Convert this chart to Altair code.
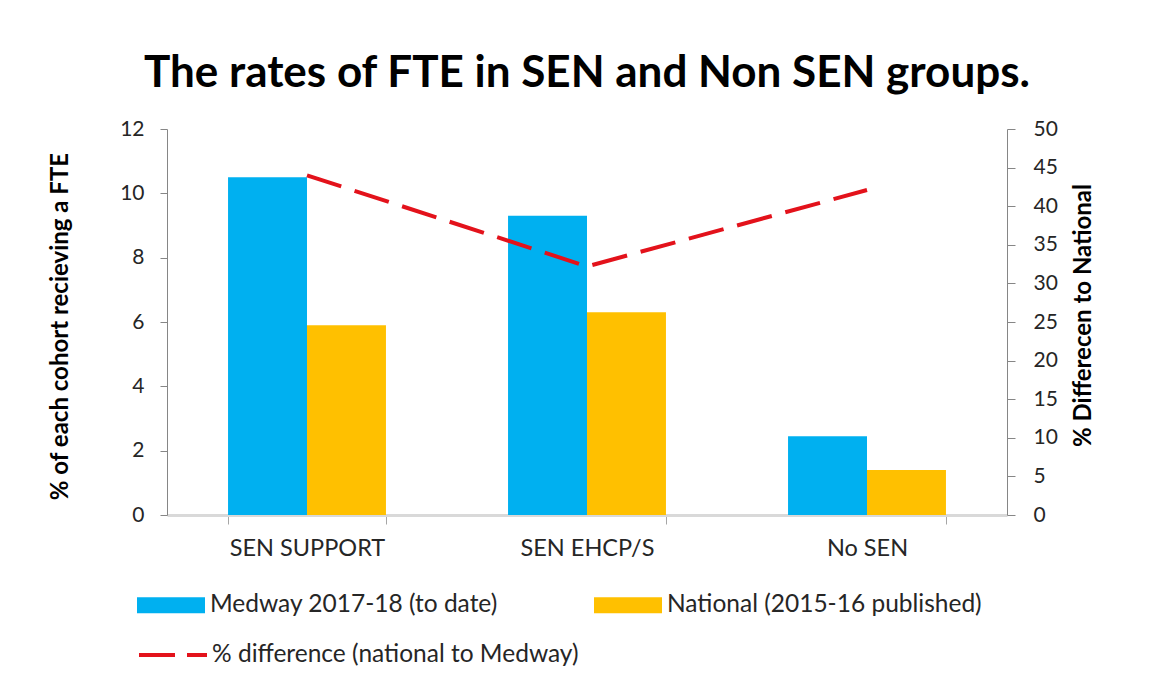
import altair as alt
import pandas as pd

categories = ["SEN SUPPORT", "SEN EHCP/S", "No SEN"]
medway = [10.5, 9.3, 2.45]
national = [5.9, 6.3, 1.4]
pct_diff = [44.0, 32.2, 42.1]
series_names = ["Medway 2017-18 (to date)", "National (2015-16 published)"]
line_name = "% difference (national to Medway)"
left_ticks = [0, 2, 4, 6, 8, 10, 12]
right_ticks = [0, 5, 10, 15, 20, 25, 30, 35, 40, 45, 50]

bars_df = pd.DataFrame({
    "category": categories * 2,
    "series": [series_names[0]] * 3 + [series_names[1]] * 3,
    "value": medway + national,
})
line_df = pd.DataFrame({
    "category": categories,
    "series": [line_name] * 3,
    "pct": pct_diff,
})

FONT = "Lato"
LABEL_COLOR = "#262626"
AXIS_GRAY = "#868686"

x_enc = alt.X(
    "category:N",
    sort=categories,
    scale=alt.Scale(paddingInner=0.436, paddingOuter=0.218),
    axis=alt.Axis(
        title=None, tickBand="extent", labelAngle=0,
        domainColor="#D9D9D9", domainWidth=3,
        tickColor="#A6A6A6", tickSize=9, tickWidth=1,
        labelFont=FONT, labelFontSize=23.5, labelColor=LABEL_COLOR,
        labelPadding=12,
    ),
)

bars = alt.Chart(bars_df).mark_bar().encode(
    x=x_enc,
    xOffset=alt.XOffset("series:N", sort=series_names,
                        scale=alt.Scale(paddingInner=0, paddingOuter=0)),
    y=alt.Y(
        "value:Q",
        scale=alt.Scale(domain=[0, 12], nice=False),
        axis=alt.Axis(
            values=left_ticks, grid=False,
            title="% of each cohort recieving a FTE",
            titleFont=FONT, titleFontSize=24, titleFontWeight="bold",
            titleColor="#000000", titleAngle=270, titleBaseline="middle",
            titleAlign="center", titleX=-107, titleY=197,
            domainColor=AXIS_GRAY, tickColor=AXIS_GRAY, tickSize=7,
            labelFont=FONT, labelFontSize=21, labelColor=LABEL_COLOR,
            labelPadding=16,
        ),
    ),
    fill=alt.Fill(
        "series:N", sort=series_names,
        scale=alt.Scale(domain=series_names, range=["#00B0F0", "#FFC000"]),
        legend=alt.Legend(
            title=None, orient="none", legendX=-30, legendY=442,
            direction="horizontal", columns=2, columnPadding=96,
            symbolType="M-1,-0.235H1V0.235H-1Z", symbolSize=4624,
            symbolStrokeWidth=0, labelOffset=5, labelLimit=500,
            labelFont=FONT, labelFontSize=24.5, labelColor=LABEL_COLOR,
        ),
    ),
)

line = alt.Chart(line_df).mark_line(strokeWidth=4, strokeDash=[36, 14]).encode(
    x=x_enc,
    y=alt.Y(
        "pct:Q",
        scale=alt.Scale(domain=[0, 50], nice=False),
        axis=alt.Axis(
            orient="right", values=right_ticks, grid=False,
            title="% Differecen to National",
            titleFont=FONT, titleFontSize=24, titleFontWeight="bold",
            titleColor="#000000", titleAngle=270, titleBaseline="middle",
            titleAlign="center", titleX=76, titleY=186,
            domainColor=AXIS_GRAY, tickColor=AXIS_GRAY, tickSize=8,
            labelFont=FONT, labelFontSize=21, labelColor=LABEL_COLOR,
            labelPadding=18,
        ),
    ),
    stroke=alt.Stroke(
        "series:N",
        scale=alt.Scale(domain=[line_name], range=["#E3121B"]),
        legend=alt.Legend(
            title=None, orient="none", legendX=-30, legendY=490,
            symbolType="stroke", symbolSize=4624, symbolStrokeWidth=4,
            symbolDash=[36, 12], labelOffset=3, labelLimit=500,
            labelFont=FONT, labelFontSize=24.5, labelColor=LABEL_COLOR,
        ),
    ),
)

chart = alt.layer(bars, line).resolve_scale(
    y="independent", fill="independent", stroke="independent"
).properties(
    width=840,
    height=386,
    autosize=alt.AutoSizeParams(type="none"),
    padding={"left": 159, "top": 121, "right": 136, "bottom": 159},
    title=alt.TitleParams(
        "The rates of FTE in SEN and Non SEN groups.",
        font=FONT, fontSize=44, fontWeight="bold", color="#000000",
        anchor="middle", baseline="alphabetic", offset=-13,
    ),
).configure_view(stroke=None)

chart.save("out.html", embed_options={"renderer": "svg", "actions": False})
